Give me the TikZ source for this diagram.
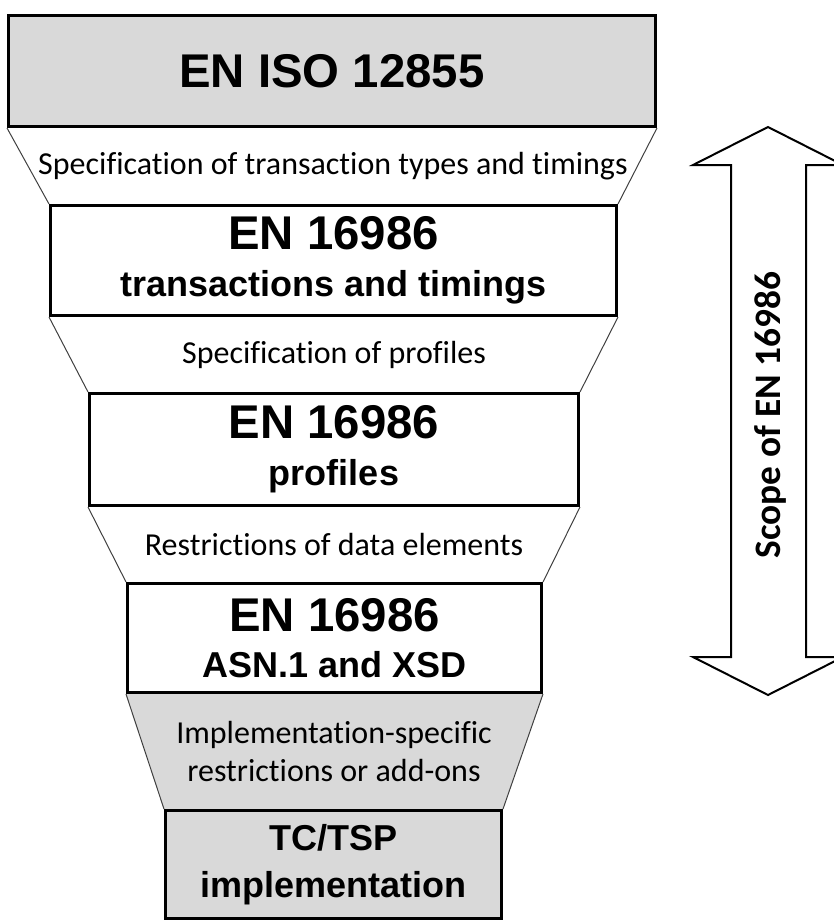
\documentclass[tikz,border=0pt]{standalone}
\usepackage{fontspec}
\setmainfont{Liberation Sans}
\newfontfamily\calibri[Ligatures={NoCommon}]{Carlito}
\usetikzlibrary{backgrounds}
\definecolor{boxgray}{RGB}{217,217,217}
\tikzset{
  stdbox/.style={draw, line width=2.25pt, inner sep=0pt, align=center,
    font=\bfseries\fontsize{27}{35}\selectfont},
  stepnote/.style={inner sep=0pt, align=center,
    font=\calibri\fontsize{24}{29}\selectfont},
  funnel/.style={draw=black!75, line width=0.75pt},
  scopearrow/.style={draw, line width=1.5pt, line join=miter},
  scopelabel/.style={inner sep=0pt, rotate=90,
    font=\calibri\bfseries\fontsize{28}{28}\selectfont},
}
\newcommand{\headline}[1]{{\fontsize{35.5}{35.5}\selectfont #1}}

\begin{document}
\begin{tikzpicture}[x=0.75pt, y=-0.75pt]
        \useasboundingbox (0,0) rectangle (834,922);
        % standards, top to bottom
        \node[stdbox, fill=boxgray, minimum width=485.25pt, minimum height=83.25pt] (iso) at (332,71) {\headline{EN ISO 12855}};
        \node[stdbox, fill=white, minimum width=424.5pt, minimum height=82.5pt] (trans) at (333.5,260.5) {\headline{EN 16986}\\transactions and timings};
        \node[stdbox, fill=white, minimum width=366.75pt, minimum height=84pt] (prof) at (334,449.5) {\headline{EN 16986}\\profiles};
        \node[stdbox, fill=white, minimum width=310.5pt, minimum height=81.75pt] (asn) at (334.5,638) {\headline{EN 16986}\\ASN.1 and XSD};
        \node[stdbox, fill=boxgray, minimum width=252pt, minimum height=81pt] (impl) at (333.5,864.5) {TC/TSP\\implementation};
        % funnel between the boxes
        \begin{scope}[on background layer]
            \fill[boxgray] (asn.south west) -- (impl.north west) -- (impl.north east) -- (asn.south east) -- cycle;
        \end{scope}
        \draw[funnel] (iso.south west) -- (trans.north west);
        \draw[funnel] (iso.south east) -- (trans.north east);
        \draw[funnel] (trans.south west) -- (prof.north west);
        \draw[funnel] (trans.south east) -- (prof.north east);
        \draw[funnel] (prof.south west) -- (asn.north west);
        \draw[funnel] (prof.south east) -- (asn.north east);
        \draw[funnel] (asn.south west) -- (impl.north west);
        \draw[funnel] (asn.south east) -- (impl.north east);
        \node[stepnote] (spec1) at (333,166) {Specification of transaction types and timings};
        \node[stepnote] (spec2) at (334,354.5) {Specification of profiles};
        \node[stepnote] (restr) at (334,544.5) {Restrictions of data elements};
        \node[stepnote] (addon) at (334,751.5) {Implementation-specific\\restrictions or add-ons};
        % scope arrow
        \draw[scopearrow] (768,127) -- (693,165) -- (731,165) -- (731,657) -- (693,657) -- (768,695)
            -- (843,657) -- (806,657) -- (806,165) -- (843,165) -- cycle;
        \node[scopelabel] (scope) at (770,415) {Scope of EN 16986};
    \end{tikzpicture}
\end{document}
